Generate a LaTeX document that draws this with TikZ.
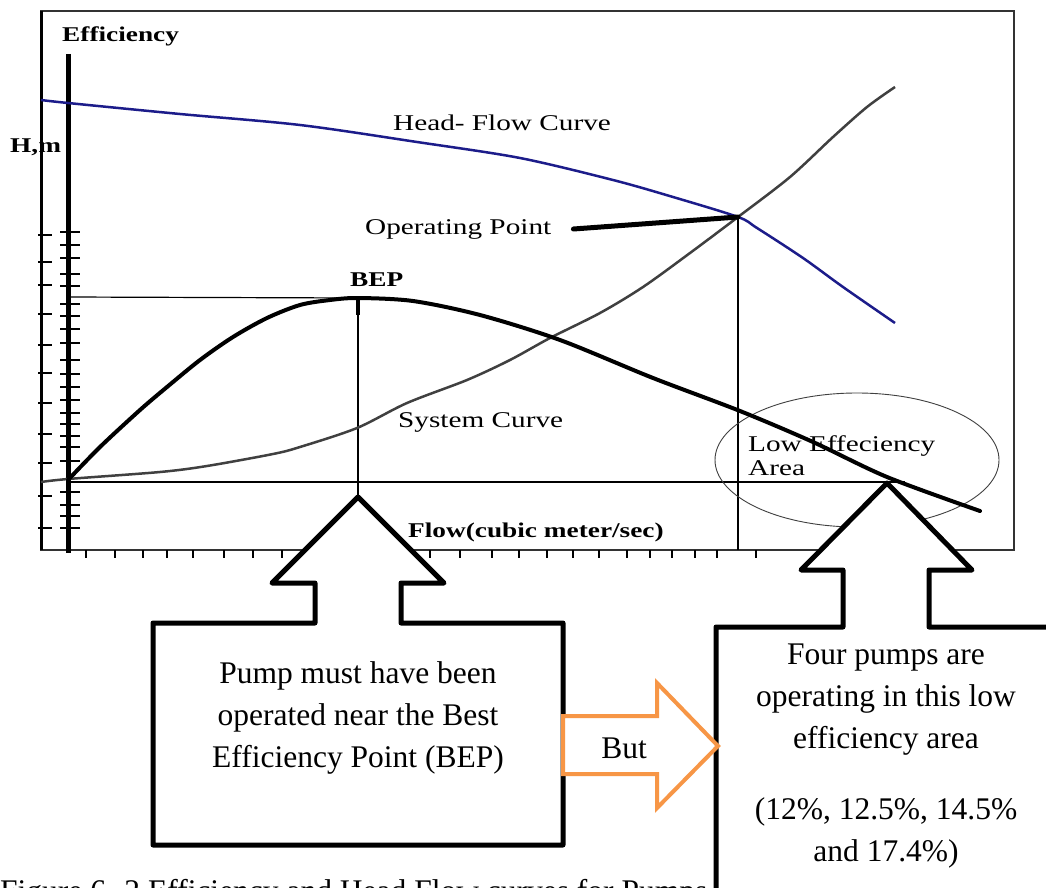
\documentclass[tikz,border=0pt]{standalone}
\usepackage{fontspec}
\setmainfont{Liberation Serif}
\usepackage{graphicx}
\definecolor{headblue}{RGB}{28,28,138}
\definecolor{sysgrey}{RGB}{64,64,64}
\definecolor{butorange}{RGB}{247,150,70}
% chart lettering is set slightly wide
\newcommand{\wideLbl}[1]{\scalebox{1.3}[1]{#1}}

\begin{document}
\begin{tikzpicture}[x=1pt,y=-1pt,
  chartlbl/.style={inner sep=0pt, font=\fontsize{22.5}{24}\selectfont},
  axislbl/.style={inner sep=0pt, font=\fontsize{21}{25}\selectfont\bfseries},
  boxtext/.style={align=center, inner sep=0pt, font=\fontsize{31.5}{42}\selectfont},
  calloutline/.style={draw=black, line width=5pt, fill=white, line join=round},
  thinline/.style={line width=1.2pt, black},
  tickmark/.style={line width=1.6pt, black},
]
\useasboundingbox (0,0) rectangle (1046,888);
\clip (0,0) rectangle (1046,888);
\fill[white] (0,0) rectangle (1046,888);

% ---- chart frame and axes ----
\draw[line width=2.5pt, black!80] (41,11) rectangle (1014,550);
\draw[line width=3pt] (41,11) -- (41,550);
\foreach \y in {235,262,285,314,345,373,403,434,463,496,528}
  \draw[tickmark] (38,\y) -- (52,\y);
\draw[line width=5pt] (68,54) -- (68,553);
\foreach \y in {232,245,258,274,286,304,316,329,343,360,374,387,400,413,424,436,447,461,492,505,516,528}
  \draw[tickmark] (60,\y) -- (80,\y);
\foreach \x in {86,115,143,167,193,224,253,282,310,338,366,394,430,460,492,519,547,573,599,627,650,672,695,717,756}
  \draw[tickmark] (\x,550) -- (\x,558);

% ---- key points ----
\coordinate (origin) at (68,480);
\coordinate (bepTop) at (358,298);
\coordinate (bepFoot) at (358,315);
\coordinate (bepAxis) at (68,297);
\coordinate (opPt) at (738,217);
\coordinate (opFoot) at (738,550);
\coordinate (baseEnd) at (905,482);
\coordinate (baseStart) at (68,482);
\coordinate (leftTip) at (358,497);

% ---- guide lines ----
\draw[thinline] (bepAxis) -- (bepTop);
\draw[thinline] (bepTop) -- (leftTip);
\draw[thinline] (baseStart) -- (baseEnd);
\draw[thinline] (opPt) -- (opFoot);

% ---- labels ----
\node[axislbl, anchor=west] (effLbl) at (62,36) {\wideLbl{Efficiency}};
\node[axislbl, anchor=west] (hLbl) at (10,147) {\wideLbl{H,m}};
\node[axislbl, anchor=west] (flowLbl) at (408,532) {\wideLbl{Flow(cubic meter/sec)}};
\node[axislbl, anchor=west] (bepLbl) at (350,280) {\wideLbl{BEP}};
\node[chartlbl, anchor=west] (headLbl) at (393,123) {\wideLbl{Head- Flow Curve}};
\node[chartlbl, anchor=west] (opLbl) at (365,229) {\wideLbl{Operating Point}};
\node[chartlbl, anchor=west] (sysLbl) at (398,422) {\wideLbl{System Curve}};
\node[chartlbl, anchor=west, align=left] (lowLbl) at (748,456) {\wideLbl{Low Effeciency}\\\wideLbl{Area}};

% low efficiency region
\draw[line width=0.9pt, black!75] (857,460) ellipse [x radius=142, y radius=67];

% ---- curves ----
\draw[headblue, line width=2.5pt] plot[smooth, tension=0.5] coordinates {
  (41,100) (68,103) (180,114) (300,125) (417,142) (520,158)
  (613,180) (673,197) (738,217) (757,228) (803,258) (843,287) (895,323)};
\draw[sysgrey, line width=2.5pt] plot[smooth] coordinates {
  (41,482) (68,479) (160,472) (207,466) (273,454) (300,447) (357,428)
  (407,403) (467,380) (510,360) (550,338) (600,313) (643,287) (690,253)
  (738,217) (790,177) (833,137) (867,107) (895,87)};
\draw[black, line width=4pt, line cap=round] plot[smooth] coordinates {
  (68,480) (100,447) (140,410) (167,387) (200,360) (233,337) (267,318)
  (300,305) (330,300) (358,298) (413,301) (480,315) (560,340) (653,378)
  (740,411) (813,442) (887,477) (980,511)};
\draw[line width=4pt] (bepTop) -- (bepFoot);

% operating point pointer
\draw[line width=5pt, line cap=round] ([xshift=22pt]opLbl.east) -- (opPt);

% ---- caption ----
\node[boxtext, anchor=base west] (caption) at (0,901) {Figure 6. 2 Efficiency and Head Flow curves for Pumps};

% ---- callouts ----
\draw[calloutline] (153,623) -- (315,623) -- (315,583) -- (272,583) -- (leftTip)
  -- (444,583) -- (401,583) -- (401,623) -- (563,623) -- (563,845) -- (153,845) -- cycle;
\draw[calloutline] (716,900) -- (716,627) -- (843,627) -- (843,570) -- (801,570)
  -- (887,483) -- (972,570) -- (929,570) -- (929,627) -- (1060,627) -- (1060,900) -- cycle;

\draw[line width=4pt, butorange, fill=white, line join=miter]
  (563,716) -- (657,716) -- (657,683) -- (718,746) -- (657,808) -- (657,774) -- (563,774) -- cycle;

\node[boxtext] (leftTxt) at (358,718) {Pump must have been\\operated near the Best\\Efficiency Point (BEP)};
\node[boxtext] (butLbl) at (624,748) {But};
\node[boxtext] (rightTxt) at (886,700) {Four pumps are\\operating in this low\\efficiency area};
\node[boxtext] (rightPct) at (886,833) {(12\%, 12.5\%, 14.5\%\\and 17.4\%)};
\end{tikzpicture}
\end{document}
